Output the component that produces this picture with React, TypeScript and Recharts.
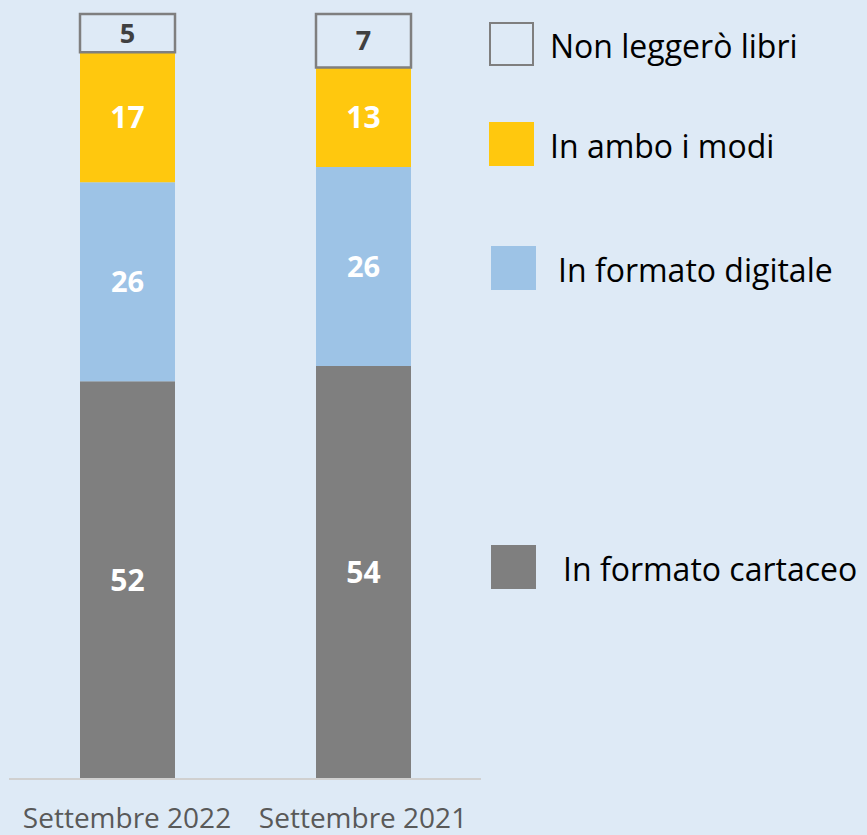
import React from 'react';
import { BarChart, Bar, XAxis, YAxis, LabelList } from 'recharts';

const categories = ['Settembre 2022', 'Settembre 2021'];
const cartaceo = [52, 54];
const digitale = [26, 26];
const ambo = [17, 13];
const nonLeggero = [5, 7];

const seriesNames = ['Non leggerò libri', 'In ambo i modi', 'In formato digitale', 'In formato cartaceo'];

const BG = '#deeaf6';
const GRAY = '#7f7f7f';
const BLUE = '#9dc3e6';
const YELLOW = '#ffc80e';

const data = categories.map((c, i) => ({
  name: c,
  cartaceo: cartaceo[i],
  digitale: digitale[i],
  ambo: ambo[i],
  nonLeggero: nonLeggero[i],
}));

const FONT = '"Open Sans", sans-serif';

// legend boxes: top / left of the square, left of the text
const legendPos = [
  { top: 22, left: 489, textLeft: 550, box: { fill: 'transparent', border: `2.5px solid ${GRAY}` } },
  { top: 122, left: 489, textLeft: 550, box: { fill: YELLOW, border: 'none' } },
  { top: 246, left: 491, textLeft: 558, box: { fill: BLUE, border: 'none' } },
  { top: 545, left: 491, textLeft: 563, box: { fill: GRAY, border: 'none' } },
];

const XTick = ({ x, y, payload }: any) => (
  <text x={x} y={y} dy={49} textAnchor="middle" fill="#595959" fontSize={28} fontFamily={FONT}>
    {payload.value}
  </text>
);

const App: React.FC = () => {
  return (
    <div style={{ position: 'absolute', left: 0, top: 0, width: 867, height: 835, background: BG, fontFamily: FONT, overflow: 'hidden' }}>
      <BarChart
        width={867}
        height={835}
        data={data}
        margin={{ top: 14, right: 386, left: 9, bottom: 0 }}
        barSize={95}
      >
        <XAxis
          dataKey="name"
          height={56}
          tickLine={false}
          tickSize={0}
          tickMargin={0}
          axisLine={{ stroke: '#d0d0d0', strokeWidth: 2 }}
          tick={<XTick />}
          interval={0}
        />
        <YAxis hide domain={[0, 100]} />
        <Bar dataKey="cartaceo" stackId="a" fill={GRAY} isAnimationActive={false}>
          <LabelList dataKey="cartaceo" position="center" fill="#ffffff" fontSize={30} fontWeight="bold" fontFamily={FONT} />
        </Bar>
        <Bar dataKey="digitale" stackId="a" fill={BLUE} isAnimationActive={false}>
          <LabelList dataKey="digitale" position="center" fill="#ffffff" fontSize={29} fontWeight="bold" fontFamily={FONT} />
        </Bar>
        <Bar dataKey="ambo" stackId="a" fill={YELLOW} isAnimationActive={false}>
          <LabelList dataKey="ambo" position="center" fill="#ffffff" fontSize={30} fontWeight="bold" fontFamily={FONT} />
        </Bar>
        <Bar dataKey="nonLeggero" stackId="a" fill="none" stroke={GRAY} strokeWidth={2.5} isAnimationActive={false}>
          <LabelList dataKey="nonLeggero" position="center" fill="#404040" fontSize={27} fontWeight="bold" fontFamily={FONT} />
        </Bar>
      </BarChart>
      {legendPos.map((p, i) => (
        <React.Fragment key={seriesNames[i]}>
          <div
            style={{
              position: 'absolute',
              left: p.left,
              top: p.top,
              width: 45,
              height: 44,
              boxSizing: 'border-box',
              background: p.box.fill,
              border: p.box.border,
            }}
          />
          <div
            style={{
              position: 'absolute',
              left: p.textLeft,
              top: p.top + 24,
              transform: 'translateY(-50%)',
              fontSize: 32,
              color: '#000',
              whiteSpace: 'nowrap',
              lineHeight: 1,
            }}
          >
            {seriesNames[i]}
          </div>
        </React.Fragment>
      ))}
    </div>
  );
};

export default App;
